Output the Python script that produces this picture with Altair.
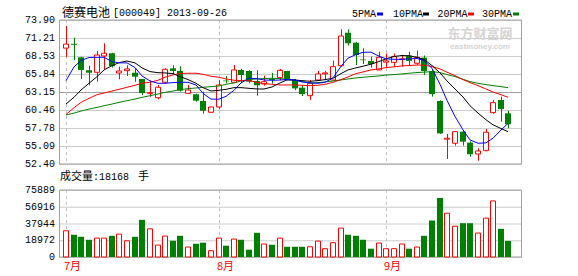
import altair as alt
import pandas as pd

# ---------------- data ----------------
opens = [69.7, 70.35, 68.33, 66.39, 66.09, 68.53, 68.93, 65.99, 66.33, 66.03,
         65.09, 62.95, 62.30, 64.6, 66.69, 66.29, 62.96, 62.81, 61.81, 60.12,
         60.91, 64.85, 64.6, 66.44, 66.29, 64.8, 64.35, 65.1, 65.29, 66.29,
         64.94, 63.8, 62.6, 64.94, 65.85, 64.94, 67.08, 72.0, 70.51, 68.0,
         67.78, 66.44, 67.6, 67.58, 68.0, 68.6, 67.44, 68.28, 66.29, 61.81,
         56.1, 55.5, 57.23, 55.59, 53.9, 54.39, 60.07, 61.96, 59.97]
closes = [70.3, 70.2, 66.44, 66.03, 68.68, 68.93, 67.03, 66.29, 66.59, 65.44,
          62.99, 63.05, 63.86, 66.54, 66.29, 63.35, 63.45, 61.86, 60.35, 60.91,
          64.2, 64.75, 66.44, 65.69, 64.69, 64.15, 64.69, 64.95, 66.39, 64.94,
          63.69, 62.84, 64.45, 65.84, 66.0, 66.93, 71.51, 70.42, 68.68, 67.9,
          67.33, 68.33, 67.8, 68.43, 68.1, 67.8, 68.33, 66.29, 62.84, 56.97,
          56.25, 57.23, 55.74, 53.86, 54.35, 57.14, 61.56, 60.6, 58.33]
highs = [73.0, 71.26, 68.4, 67.08, 69.27, 70.42, 69.0, 66.93, 67.14, 66.69,
         65.1, 64.84, 64.2, 66.69, 67.14, 66.99, 64.2, 62.9, 63.2, 60.95,
         64.94, 65.55, 67.18, 66.6, 66.4, 66.4, 65.6, 66.0, 66.6, 66.3,
         65.1, 64.2, 64.94, 66.29, 66.3, 67.83, 72.51, 72.51, 70.6, 69.68,
         68.43, 69.17, 68.9, 68.9, 68.68, 69.17, 69.32, 68.6, 66.4, 61.9,
         56.9, 57.3, 57.4, 55.8, 54.75, 57.63, 61.96, 62.45, 60.32]
lows = [68.4, 67.93, 65.1, 64.15, 64.69, 66.59, 66.8, 65.05, 65.54, 64.69,
        62.69, 62.44, 62.06, 64.45, 65.84, 63.2, 62.9, 61.7, 59.91, 60.1,
        60.57, 64.45, 64.55, 64.6, 64.45, 62.6, 64.1, 64.4, 64.9, 64.9,
        63.45, 62.55, 61.96, 64.9, 64.9, 64.9, 66.9, 70.1, 67.18, 67.33,
        66.78, 66.4, 66.9, 66.9, 66.93, 67.1, 67.2, 65.7, 62.45, 56.9,
        53.15, 55.14, 55.14, 53.5, 52.9, 54.3, 59.9, 58.72, 57.74]
volumes = [29700, 25200, 22900, 19500, 21400, 21400, 24000, 25900, 18400, 22900,
           42100, 31900, 13500, 23700, 18400, 24000, 11300, 15000, 16200, 7100,
           21400, 12800, 20300, 19500, 8300, 27400, 14700, 13900, 21400, 11600,
           11600, 11600, 11600, 18000, 9400, 16200, 32700, 25200, 24000, 19500,
           9400, 15800, 9400, 9400, 14700, 9400, 11300, 24000, 41300, 66900,
           49600, 34900, 38300, 38300, 27100, 44000, 63500, 31900, 18168]
ma5 = [64.84, 66.9, 67.85, 68.3, 68.33, 68.33, 67.7, 67.5, 67.5, 66.8,
       65.55, 64.8, 64.45, 64.45, 64.55, 64.6, 64.6, 64.2, 62.95, 62.08,
       62.08, 62.5, 63.4, 64.5, 65.2, 65.15, 64.94, 64.9, 64.94, 65.0,
       64.93, 64.65, 64.5, 64.45, 64.6, 65.25, 67.0, 68.2, 68.75, 69.08,
       69.1, 68.5, 68.1, 68.03, 68.03, 68.1, 68.15, 67.85, 66.69, 64.3,
       61.9, 59.5, 57.5, 56.0, 55.5, 55.55, 56.25, 57.48, 58.45]
ma10 = [61.36, 62.36, 63.45, 64.45, 65.44, 66.44, 67.08, 67.53, 67.78, 67.5,
        66.75, 66.2, 66.03, 66.0, 65.9, 65.45, 65.0, 64.45, 63.8, 63.3,
        63.4, 63.55, 63.8, 63.8, 63.7, 63.6, 63.6, 63.9, 64.5, 64.95,
        64.94, 64.85, 64.75, 64.85, 65.0, 65.2, 65.9, 66.45, 66.75, 67.0,
        67.3, 67.7, 68.1, 68.45, 68.6, 68.55, 68.33, 68.0, 67.1, 66.0,
        64.8, 63.6, 62.4, 61.1, 60.0, 59.0, 58.25, 57.7, 57.23]
ma20 = [59.8, 60.8, 61.6, 62.2, 62.75, 63.0, 63.3, 63.55, 63.85, 64.15,
        64.45, 64.6, 64.9, 65.35, 65.7, 65.9, 65.95, 65.95, 65.8, 65.5,
        65.35, 65.1, 64.9, 64.85, 64.85, 64.6, 64.4, 64.3, 64.2, 64.2,
        64.2, 64.15, 64.1, 64.15, 64.3, 64.6, 65.0, 65.4, 65.9, 66.15,
        66.45, 66.6, 66.8, 66.9, 67.05, 67.1, 67.18, 67.15, 66.95, 66.6,
        66.1, 65.6, 65.0, 64.55, 64.1, 63.6, 63.15, 62.75, 62.36]
ma30 = [59.72, 60.0, 60.3, 60.6, 60.85, 61.1, 61.35, 61.6, 61.85, 62.1,
        62.35, 62.6, 62.85, 63.1, 63.3, 63.5, 63.65, 63.75, 63.85, 63.95,
        64.05, 64.3, 64.5, 64.8, 65.0, 65.1, 65.15, 65.2, 65.15, 65.05,
        64.94, 64.7, 64.5, 64.55, 64.65, 64.8, 64.95, 65.1, 65.25, 65.35,
        65.45, 65.55, 65.68, 65.75, 65.85, 65.95, 66.05, 66.12, 66.18, 66.05,
        65.75, 65.45, 65.05, 64.7, 64.45, 64.25, 64.1, 63.95, 63.8]

price_ticks = [73.90, 71.21, 68.53, 65.84, 63.15, 60.46, 57.78, 55.09, 52.40]
vol_ticks = [0, 18972, 37944, 56916, 75889]
month_labels = ["7月", "8月", "9月"]
month_index = [0, 20, 42]
ma_names = ["5PMA", "10PMA", "20PMA", "30PMA"]
stock_name = "德赛电池"
stock_code = "000049"
stock_date = "2013-09-26"

# ---------------- tables ----------------
n = len(closes)
df = pd.DataFrame({"i": list(range(n)), "open": opens, "close": closes,
                   "high": highs, "low": lows, "vol": volumes,
                   "ma5": ma5, "ma10": ma10, "ma20": ma20, "ma30": ma30})
df["dir"] = ["up" if c >= o else "down" for o, c in zip(opens, closes)]

p_ticks_df = pd.DataFrame({"v": price_ticks, "t": [f"{v:.2f}" for v in price_ticks]})
v_ticks_df = pd.DataFrame({"v": vol_ticks, "t": [str(v) for v in vol_ticks]})
panel_p = pd.DataFrame({"top": [price_ticks[0]], "bot": [price_ticks[-1]],
                        "mid": [price_ticks[len(price_ticks) // 2]]})
panel_v = pd.DataFrame({"top": [vol_ticks[-1]], "bot": [vol_ticks[0]]})
months = pd.DataFrame({"mi": month_index, "label": month_labels,
                       "top": price_ticks[0], "bot": price_ticks[-1],
                       "vtop": vol_ticks[-1], "vbot": vol_ticks[0]})

RED = "#ff0000"
GREEN = "#008000"
BORDER = "#a0a0a0"
GRID = "#cccccc"
W = 463
MONO = "Liberation Mono"
CJK = "Noto Sans CJK SC"

x_scale = alt.Scale(domain=[0, n - 1], range=[2, 454.4], round=True, nice=False, zero=False)
p_scale = alt.Scale(domain=[price_ticks[-1], price_ticks[0]], range=[164, 20], nice=False, zero=False)
v_scale = alt.Scale(domain=[vol_ticks[0], vol_ticks[-1]], range=[257, 190], nice=False)

X = alt.X("i:Q", scale=x_scale, axis=None)

base = alt.Chart(df)
up = base.transform_filter("datum.dir == 'up'")
down = base.transform_filter("datum.dir == 'down'")

# ---------------- price panel ----------------
p_grid = alt.Chart(p_ticks_df).mark_rule(color=GRID, strokeWidth=1, yOffset=0.5).encode(
    x=alt.value(0), x2=alt.value(W), y=alt.Y("v:Q", scale=p_scale, axis=None))
p_labels = alt.Chart(p_ticks_df).mark_text(align="right", baseline="middle", font=MONO,
                                           fontSize=10, color="black", dx=-4).encode(
    x=alt.value(0), y=alt.Y("v:Q", scale=p_scale, axis=None), text="t:N")
p_frame = alt.Chart(panel_p).mark_rect(fill="transparent", stroke=BORDER, strokeWidth=1).encode(
    x=alt.value(0.5), x2=alt.value(W - 0.5),
    y=alt.Y("top:Q", scale=p_scale, axis=None), y2="bot:Q")
p_mid = alt.Chart(panel_p).mark_rule(color=BORDER, strokeWidth=1, yOffset=0.5).encode(
    x=alt.value(0), x2=alt.value(W), y=alt.Y("mid:Q", scale=p_scale, axis=None))
p_month = alt.Chart(months).mark_rule(color="#c0c0c0", strokeDash=[3, 3], strokeWidth=1, xOffset=0.5).encode(
    x=alt.X("mi:Q", scale=x_scale, axis=None),
    y=alt.Y("top:Q", scale=p_scale, axis=None), y2="bot:Q")

wick_up = up.mark_rule(color=RED, strokeWidth=1, xOffset=0.5).encode(
    x=X, y=alt.Y("low:Q", scale=p_scale, axis=None), y2="high:Q")
wick_dn = down.mark_rule(color=GREEN, strokeWidth=1, xOffset=0.5).encode(
    x=X, y=alt.Y("low:Q", scale=p_scale, axis=None), y2="high:Q")
body_up = up.mark_bar(size=5, fill="white", stroke=RED, strokeWidth=1).encode(
    x=X, y=alt.Y("open:Q", scale=p_scale, axis=None), y2="close:Q")
body_dn = down.mark_bar(size=6, color=GREEN).encode(
    x=X, y=alt.Y("open:Q", scale=p_scale, axis=None), y2="close:Q")

ma_layers = []
for col, color in zip(["ma30", "ma20", "ma10", "ma5"], [GREEN, RED, "#000000", "#0000ff"]):
    ma_layers.append(base.mark_line(color=color, strokeWidth=1).encode(
        x=X, y=alt.Y(f"{col}:Q", scale=p_scale, axis=None)))

price = alt.layer(p_grid, p_mid, p_month, p_frame, p_labels,
                  wick_up, wick_dn, body_up, body_dn, *ma_layers)

# ---------------- volume panel ----------------
v_grid = alt.Chart(v_ticks_df).mark_rule(color=GRID, strokeWidth=1, yOffset=0.5).encode(
    x=alt.value(0), x2=alt.value(W), y=alt.Y("v:Q", scale=v_scale, axis=None))
v_labels = alt.Chart(v_ticks_df).mark_text(align="right", baseline="middle", font=MONO,
                                           fontSize=10, color="black", dx=-4).encode(
    x=alt.value(0), y=alt.Y("v:Q", scale=v_scale, axis=None), text="t:N")
v_frame = alt.Chart(panel_v).mark_rect(fill="transparent", stroke=BORDER, strokeWidth=1).encode(
    x=alt.value(0.5), x2=alt.value(W - 0.5),
    y=alt.Y("top:Q", scale=v_scale, axis=None), y2="bot:Q")
v_month = alt.Chart(months).mark_rule(color="#c0c0c0", strokeDash=[3, 3], strokeWidth=1, xOffset=0.5).encode(
    x=alt.X("mi:Q", scale=x_scale, axis=None),
    y=alt.Y("vtop:Q", scale=v_scale, axis=None), y2="vbot:Q")
vol_up = up.mark_bar(size=5, fill="white", stroke=RED, strokeWidth=1).encode(
    x=X, y=alt.Y("vol:Q", scale=v_scale, axis=None))
vol_dn = down.mark_bar(size=6, color=GREEN).encode(
    x=X, y=alt.Y("vol:Q", scale=v_scale, axis=None))

volume = alt.layer(v_grid, v_month, v_frame, v_labels, vol_up, vol_dn)

# ---------------- texts ----------------
one = pd.DataFrame({"k": [0]})


def label(text, x, y, font, size, color="black", align="left", weight="normal"):
    return alt.Chart(one).mark_text(text=text, align=align, baseline="middle", font=font,
                                    fontSize=size, color=color, fontWeight=weight).encode(
        x=alt.value(x), y=alt.value(y))


texts = [
    label(stock_name, 3, 13, CJK, 12),
    label(f"[{stock_code}] {stock_date}", 54, 13, MONO, 10),
    label("东方财富网", 421, 34, CJK, 13, color="#d4d4d4", align="center", weight="bold"),
    label("eastmoney.com", 421, 46.5, "Liberation Sans", 8, color="#d4d4d4", align="center", weight="bold"),
    label("成交量", 1, 177, CJK, 11),
    label(f":{volumes[-1]}", 34, 177, MONO, 10),
    label("手", 79, 177, CJK, 11),
]

legend_pos = [(293, 318), (334, 364), (378.5, 409), (423, 454)]
for name, color, (tx, dx) in zip(ma_names, ["#0000ff", "#000000", RED, GREEN], legend_pos):
    texts.append(label(name, tx, 14, MONO, 10))
    texts.append(alt.Chart(one).mark_rect(color=color).encode(
        x=alt.value(dx), x2=alt.value(dx + 6), y=alt.value(12.5), y2=alt.value(15.5)))

month_text = alt.Chart(months).mark_text(align="left", baseline="middle", font=CJK, fontSize=11,
                                         color=RED, dx=-2).encode(
    x=alt.X("mi:Q", scale=x_scale, axis=None), y=alt.value(267), text="label:N")

chart = alt.layer(price, volume, month_text, *texts).resolve_scale(y="independent").properties(
    width=W, height=276,
    padding={"left": 59, "top": 0, "right": 56, "bottom": 0},
    autosize=alt.AutoSizeParams(type="none"),
    background="white",
).configure_view(stroke=None)

chart.save("out.html", embed_options={"renderer": "svg", "actions": False})
